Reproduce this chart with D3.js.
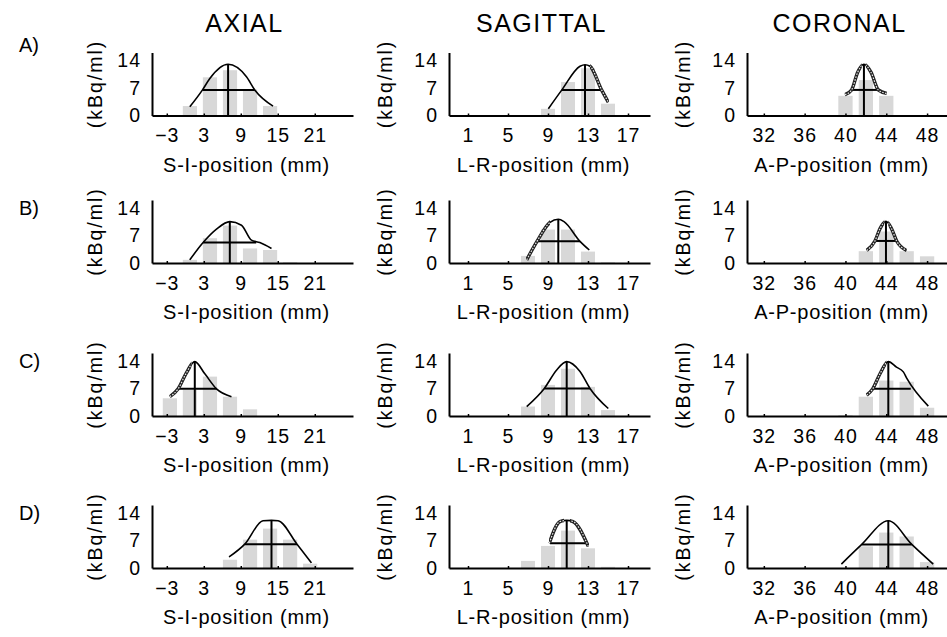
<!DOCTYPE html>
<html>
<head>
<meta charset="utf-8">
<script src="https://cdn.jsdelivr.net/npm/d3@7"></script>
<style>
  body { margin: 0; background: #fff; }
  svg text { font-family: "Liberation Sans", Arial, sans-serif; fill: #000; }
</style>
</head>
<body>
<svg id="fig" width="947" height="637"></svg>
<script>
// ---- labels and ticks ----
const planeTitles = ["AXIAL", "SAGITTAL", "CORONAL"];
const positionLabels = ["S-I-position (mm)", "L-R-position (mm)", "A-P-position (mm)"];
const rowLabels = ["A)", "B)", "C)", "D)"];
const axialTicks = [-3, 3, 9, 15, 21];
const sagittalTicks = [1, 5, 9, 13, 17];
const coronalTicks = [32, 36, 40, 44, 48];
const activityTicks = [0, 7, 14];

// ---- voxel centres (mm) along each direction ----
const axialBins = [-2.5, 0.75, 4.0, 7.25, 10.5, 13.75, 17.0, 20.25];
const sagittalBins = [5, 7, 9, 11, 13, 15, 17];
const coronalBins = [38, 40, 42, 44, 46, 48];

// ---- measured activity per voxel (kBq/ml), one row per case A-D ----
const axialActivity = [
  [0, 2.4, 9.7, 11.5, 6.6, 2.4, 0, 0],
  [0, 0.8, 6.3, 9.5, 3.7, 3.3, 0.2, 0],
  [4.5, 6.6, 10.0, 4.9, 1.7, 0, 0, 0],
  [0, 0, 0, 2.1, 7.2, 10.0, 7.2, 1.1]
];
const sagittalActivity = [
  [0, 0, 1.7, 8.5, 12.0, 3.0, 0],
  [0, 1.8, 8.5, 8.5, 2.9, 0.2, 0],
  [0, 2.4, 7.9, 12.0, 7.4, 1.5, 0],
  [0, 1.8, 5.6, 9.5, 5.0, 0.3, 0]
];
const coronalActivity = [
  [0, 5.0, 9.0, 5.0, 0, 0],
  [0, 0, 3.0, 8.0, 3.0, 1.7],
  [0, 0.2, 4.9, 9.0, 8.7, 2.1],
  [0, 0, 5.5, 9.0, 8.0, 1.5]
];

// ---- fitted profiles: [position mm, kBq/ml] ----
const axialFit = [
  [[0.73, 2.2], [2.79, 6.5], [3.98, 9.4], [6.94, 13.0], [9.92, 9.85], [11.27, 6.5], [14.23, 2.4]],
  [[0.73, 0.8], [2.89, 5.2], [5.06, 8.6], [7.22, 10.5], [9.11, 9.6], [10.73, 5.8], [12.08, 5.2], [13.98, 3.7]],
  [[-2.51, 4.9], [-1.16, 6.9], [0.09, 10.7], [1.54, 13.8], [3.17, 10.7], [5.06, 6.9], [7.49, 4.9]],
  [[7.1, 2.8], [9.65, 6.05], [12.6, 12.0], [13.98, 12.1], [15.05, 12.0], [18.12, 6.05], [20.46, 1.3]]
];
const sagittalFit = [
  [[9.03, 1.7], [10.37, 6.45], [12.2, 12.5], [12.7, 12.9], [13.2, 12.5], [14.37, 6.45], [15.03, 3.4]],
  [[6.87, 0.8], [7.9, 5.5], [9.2, 10.3], [10.03, 11.1], [10.6, 10.5], [12.2, 5.5], [13.13, 3.3]],
  [[6.87, 2.4], [8.63, 7.0], [9.87, 11.7], [10.87, 13.8], [12.2, 11.3], [13.2, 7.0], [15.03, 1.9]],
  [[9.13, 6.3], [10.2, 11.8], [10.87, 12.1], [11.5, 11.8], [13.03, 5.5]]
];
const coronalFit = [
  [[39.95, 5.3], [40.6, 6.5], [41.2, 11.0], [41.81, 13.0], [42.5, 11.0], [43.22, 6.5], [44.04, 5.6]],
  [[42.08, 3.2], [42.89, 5.6], [43.4, 8.8], [43.97, 10.6], [44.5, 8.8], [45.02, 5.6], [46.0, 3.2]],
  [[42.08, 5.3], [42.67, 6.9], [43.4, 10.8], [44.2, 13.8], [45.0, 12.4], [45.67, 11.2], [46.0, 9.6], [48.12, 2.5]],
  [[39.6, 1.0], [41.6, 6.0], [44.2, 12.0], [46.5, 6.0], [48.6, 1.0]]
];

// ---- fit summary: peak [position, value] and half-maximum width [left, right, level] ----
const axialPeak = [[6.94, 13.0], [7.22, 10.5], [1.54, 13.8], [13.98, 12.1]];
const sagittalPeak = [[12.7, 12.9], [10.03, 11.1], [10.87, 13.8], [10.87, 12.1]];
const coronalPeak = [[41.81, 13.0], [43.97, 10.6], [44.2, 13.8], [44.2, 12.0]];
const axialHalfWidth = [[2.79, 11.27, 6.5], [2.89, 11.5, 5.2], [-1.16, 5.06, 6.9], [9.65, 18.12, 6.05]];
const sagittalHalfWidth = [[10.37, 14.37, 6.45], [7.9, 12.2, 5.5], [8.63, 13.2, 7.0], [9.2, 12.8, 6.3]];
const coronalHalfWidth = [[40.6, 43.22, 6.5], [42.89, 45.02, 5.6], [42.67, 46.4, 6.9], [41.6, 46.5, 6.0]];

// ---- stretches (mm) of each profile drawn as a doubled, beaded trace ----
const axialBeaded = [[], [], [[-2.6, 1.0]], []];
const sagittalBeaded = [[[13.2, 15.1]], [[6.8, 9.2]], [], [[9.1, 10.6], [11.2, 13.1]]];
const coronalBeaded = [[[39.9, 41.6], [42.0, 44.1]], [[42.0, 43.8], [44.2, 46.0]], [[42.0, 44.0]], []];

// ---- layout ----
const colLeft = [152, 449, 747];
const axisW = 201, axisH = 63;
const rowBase = [115.5, 263, 416, 568];
const xDomains = [[-5.4, 27.2], [-0.9, 19.2], [30.35, 50.05]];
const binWidth = [2.3, 1.4, 1.4];
const yLabelOffset = [57, 64, 64];
const rowLabelRaise = [15, 0, 0, 0];
const FONT = "'Liberation Sans', Arial, sans-serif";

const columns = [
  { ticks: axialTicks, bins: axialBins, act: axialActivity, fit: axialFit, peak: axialPeak, half: axialHalfWidth, beads: axialBeaded },
  { ticks: sagittalTicks, bins: sagittalBins, act: sagittalActivity, fit: sagittalFit, peak: sagittalPeak, half: sagittalHalfWidth, beads: sagittalBeaded },
  { ticks: coronalTicks, bins: coronalBins, act: coronalActivity, fit: coronalFit, peak: coronalPeak, half: coronalHalfWidth, beads: coronalBeaded }
];

const svg = d3.select("#fig").attr("font-family", FONT);
const defs = svg.append("defs");

// column titles
planeTitles.forEach((t, c) => {
  svg.append("text")
    .attr("x", colLeft[c] + axisW / 2 - 8)
    .attr("y", 31.5)
    .attr("text-anchor", "middle")
    .style("font-size", "25px")
    .style("letter-spacing", "1.5px")
    .text(t);
});

// case labels, level with the top tick of each row
rowLabels.forEach((t, r) => {
  const y14 = rowBase[r] - 14 * axisH / 16;
  svg.append("text")
    .attr("x", 19)
    .attr("y", y14 - rowLabelRaise[r] + 7)
    .style("font-size", "20px")
    .text(t);
});

let clipId = 0;
columns.forEach((col, c) => {
  const x = d3.scaleLinear().domain(xDomains[c]).range([colLeft[c], colLeft[c] + axisW]);
  rowBase.forEach((base, r) => {
    const y = d3.scaleLinear().domain([0, 16]).range([base, base - axisH]);
    const g = svg.append("g");

    // voxel activity bars
    const bw = binWidth[c];
    g.selectAll("rect")
      .data(col.bins.map((p, i) => ({ p, v: col.act[r][i] })).filter(d => d.v > 0))
      .join("rect")
      .attr("x", d => x(d.p - bw / 2))
      .attr("width", d => x(d.p + bw / 2) - x(d.p - bw / 2))
      .attr("y", d => y(d.v))
      .attr("height", d => y(0) - y(d.v))
      .attr("fill", "#d8d8d8");

    // axes
    const xAxis = g.append("g")
      .attr("transform", `translate(0,${base})`)
      .call(d3.axisBottom(x).tickValues(col.ticks).tickSize(-2).tickSizeOuter(0).tickPadding(13));
    const yAxis = g.append("g")
      .attr("transform", `translate(${colLeft[c]},0)`)
      .call(d3.axisLeft(y).tickValues(activityTicks).tickSize(0).tickSizeOuter(0).tickPadding(11));
    [xAxis, yAxis].forEach(a => {
      a.attr("font-family", FONT).attr("font-size", null);
      a.select(".domain").attr("stroke", "#000").attr("stroke-width", 2);
      a.selectAll(".tick line").attr("stroke", "#000").attr("stroke-width", 1.5);
      a.selectAll("text").style("font-size", "19.5px").style("letter-spacing", "1px");
    });

    // fitted profile, peak marker and half-maximum width
    const pk = col.peak[r], hw = col.half[r];
    g.append("line")
      .attr("x1", x(pk[0])).attr("x2", x(pk[0]))
      .attr("y1", y(0)).attr("y2", y(pk[1]))
      .attr("stroke", "#000").attr("stroke-width", 2);
    g.append("line")
      .attr("x1", x(hw[0])).attr("x2", x(hw[1]))
      .attr("y1", y(hw[2])).attr("y2", y(hw[2]))
      .attr("stroke", "#000").attr("stroke-width", 2);
    const profile = d3.line().x(d => x(d[0])).y(d => y(d[1])).curve(d3.curveMonotoneX)(col.fit[r]);
    g.append("path")
      .attr("d", profile)
      .attr("fill", "none").attr("stroke", "#000").attr("stroke-width", 1.6);

    // beaded stretches of the trace
    col.beads[r].forEach(([a, b]) => {
      const id = `bead${clipId++}`;
      defs.append("clipPath").attr("id", id)
        .append("rect")
        .attr("x", x(a)).attr("width", x(b) - x(a))
        .attr("y", base - axisH - 4).attr("height", axisH + 4);
      const bg = g.append("g").attr("clip-path", `url(#${id})`);
      bg.append("path").attr("d", profile)
        .attr("fill", "none").attr("stroke", "#222").attr("stroke-width", 3.4);
      bg.append("path").attr("d", profile)
        .attr("fill", "none").attr("stroke", "#e6e6e6").attr("stroke-width", 1.2)
        .attr("stroke-dasharray", "1.6 1.4");
    });

    // axis titles
    g.append("text")
      .attr("x", colLeft[c] + axisW / 2 - 6)
      .attr("y", base + 56)
      .attr("text-anchor", "middle")
      .style("font-size", "20px")
      .style("letter-spacing", "0.8px")
      .text(positionLabels[c]);
    g.append("text")
      .attr("transform", `translate(${colLeft[c] - yLabelOffset[c] + 7},${base - axisH / 2}) rotate(-90)`)
      .attr("text-anchor", "middle")
      .style("font-size", "19.5px")
      .style("letter-spacing", "2px")
      .text("(kBq/ml)");
  });
});
</script>
</body>
</html>
